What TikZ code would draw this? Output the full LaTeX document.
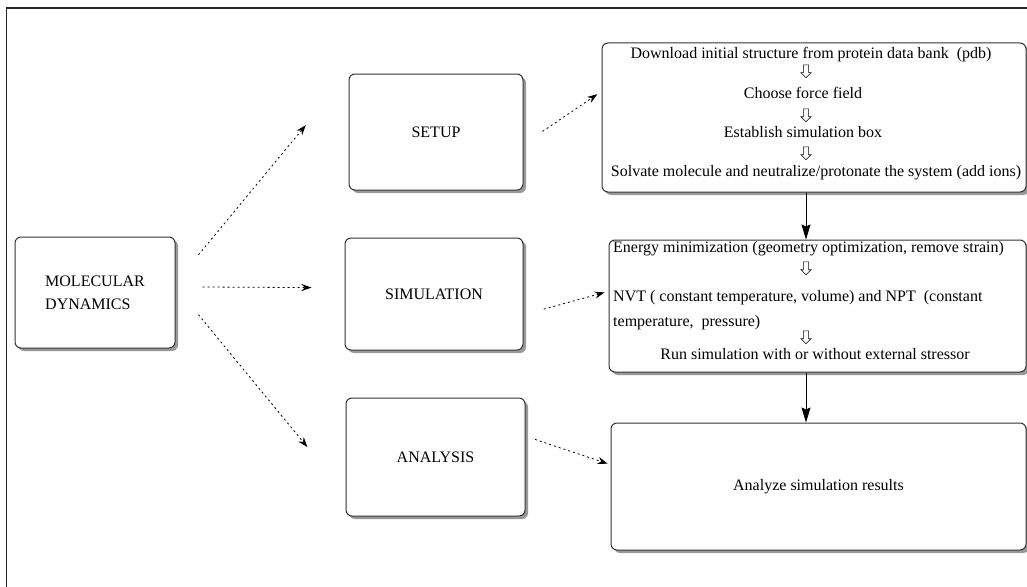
\documentclass[tikz,border=0pt]{standalone}
\usepackage{fontspec}
\setmainfont{Liberation Serif}
\usetikzlibrary{shapes.arrows, arrows.meta, shadows, positioning, calc}

\begin{document}
\begin{tikzpicture}[x=1pt, y=-1pt,
  box/.style={draw=black!80, line width=1pt, rounded corners=6pt, fill=white,
    drop shadow={shadow xshift=3pt, shadow yshift=-3pt, fill=black, opacity=0.4},
    font=\fontsize{16}{23}\selectfont, inner sep=0pt},
  txt/.style={font=\fontsize{16}{25}\selectfont, inner sep=0pt},
  dotarrow/.style={-{Stealth[length=10pt, width=7pt]}, dash pattern=on 2pt off 3pt, line width=0.8pt},
  downarrow/.style={-{Stealth[length=15pt, width=9pt, inset=2pt]}, line width=0.8pt},
  hollow/.style={single arrow, draw, line width=0.6pt, shape border rotate=270,
    minimum height=13pt, inner sep=2.3pt, single arrow head extend=2.5pt}]
\useasboundingbox (0,0) rectangle (1027,586);

% outer frame
\draw[line width=1.4pt, black!85] (6.5,600) -- (6.5,8) -- (1040,8);

% left column
\node[box, minimum width=160pt, minimum height=111pt, align=left] (md) at (95,292.5) {MOLECULAR\\DYNAMICS};

% middle column
\node[box, minimum width=174pt, minimum height=116pt] (setup) at (436,132) {SETUP};
\node[box, minimum width=178pt, minimum height=112pt] (sim) at (434,294) {SIMULATION};
\node[box, minimum width=179pt, minimum height=118pt] (ana) at (435.5,457) {ANALYSIS};

% right column
\node[box, minimum width=424pt, minimum height=149pt] (prep) at (814,117.5) {};
\node[box, minimum width=417pt, minimum height=132pt] (run) at (817.5,306) {};
\node[box, minimum width=415pt, minimum height=127pt] (res) at (818.5,486.5) {Analyze simulation results};

% setup steps
\node[txt] (pdb) at (811,55) {Download initial structure from protein data bank\ \ (pdb)};
\node[hollow] (h1) at (806,70) {};
\node[txt] (ff) at (803,93) {Choose force field};
\node[hollow] (h2) at (806,114) {};
\node[txt] (sbox) at (803,132) {Establish simulation box};
\node[hollow] (h3) at (806,152) {};
\node[txt] (solv) at (816,173) {Solvate molecule and neutralize/protonate the system (add ions)};

% simulation steps
\node[txt, anchor=west] (emin) at (613,249) {Energy minimization (geometry optimization, remove strain)};
\node[hollow] (h4) at (806,267) {};
\node[txt, anchor=west, align=left] (nvt) at (613,310) {NVT ( constant temperature, volume) and NPT\ \ (constant\\temperature,\ \ pressure)};
\node[hollow] (h5) at (806,336) {};
\node[txt] (rsim) at (815,354) {Run simulation with or without external stressor};

% dotted connectors
\draw[dotarrow, shorten <=36pt, shorten >=67pt] (md.7) -- (setup.north west);
\draw[dotarrow, shorten <=27pt, shorten >=33pt] (md.4) -- (sim.176);
\draw[dotarrow, shorten <=36pt, shorten >=60pt] (md.4) -- (ana.202);
\draw[dotarrow, shorten <=23pt, shorten >=5pt] (setup.352) -- (prep.173);
\draw[dotarrow, shorten <=21pt, shorten >=4pt] (sim.347) -- (run.176);
\draw[dotarrow, shorten <=10pt, shorten >=3pt] (ana.13) -- (res.174);

% solid connectors
\draw[downarrow] (prep.south -| h3) -- (run.north -| h3);
\draw[downarrow] (run.south -| h5) -- (res.north -| h5);
\end{tikzpicture}
\end{document}
